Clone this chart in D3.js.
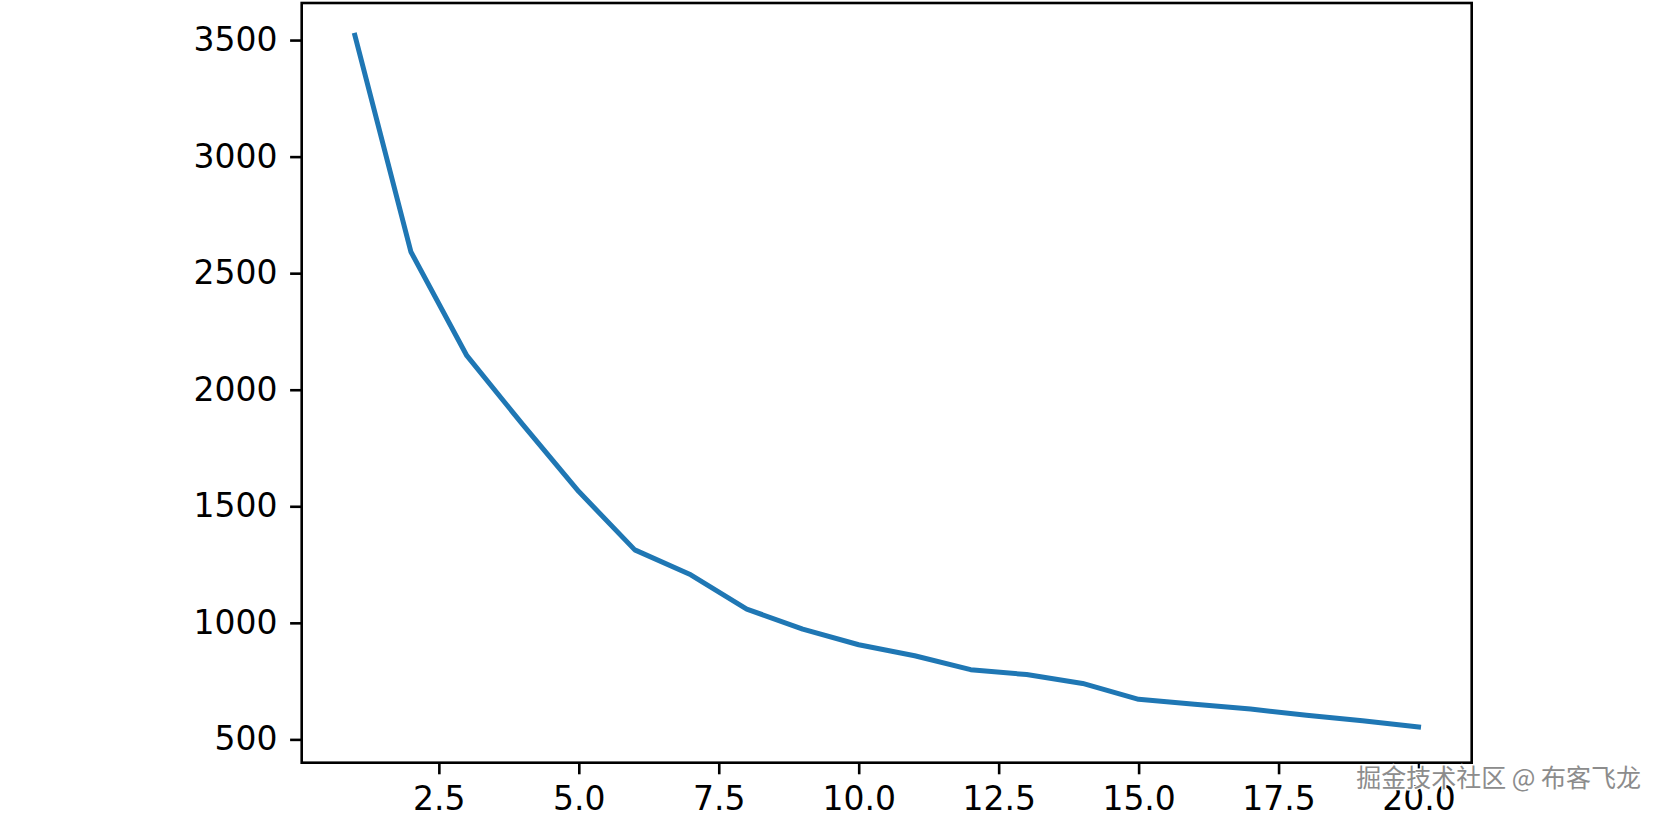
<!DOCTYPE html>
<html>
<head>
<meta charset="utf-8">
<script src="https://cdn.jsdelivr.net/npm/d3@7"></script>
<style>
  html, body { margin: 0; padding: 0; background: #fff; }
  svg { display: block; }
</style>
</head>
<body>
<svg id="chart" width="1665" height="815"></svg>
<script>
// ---- data ----
const xValues = [1, 2, 3, 4, 5, 6, 7, 8, 9, 10, 11, 12, 13, 14, 15, 16, 17, 18, 19, 20];
const yValues = [3520, 2592, 2146, 1850, 1563, 1313, 1206, 1059, 973, 906, 859, 799, 778, 740, 672, 651, 630, 604, 580, 553];
const xTicks = [2.5, 5.0, 7.5, 10.0, 12.5, 15.0, 17.5, 20.0];
const yTicks = [500, 1000, 1500, 2000, 2500, 3000, 3500];
const watermark = "掘金技术社区 @ 布客飞龙";

// ---- layout ----
const W = 1665, H = 815;
const plotLeft = 301.7, plotRight = 1471.7, plotTop = 3, plotBottom = 762.7;
const fontSize = 33;
const tickLen = 11.6, tickPad = 12.5;

const svg = d3.select("#chart");
svg.append("rect").attr("width", W).attr("height", H).attr("fill", "#fff");

const x = d3.scaleLinear().domain([0.05, 20.95]).range([plotLeft, plotRight]);
const y = d3.scaleLinear().domain([400, 3659]).range([plotBottom, plotTop]);

// line
const line = d3.line().x((d, i) => x(xValues[i])).y(d => y(d));
svg.append("path")
  .datum(yValues)
  .attr("d", line)
  .attr("fill", "none")
  .attr("stroke", "#1f77b4")
  .attr("stroke-width", 5)
  .attr("stroke-linejoin", "round")
  .attr("stroke-linecap", "square");

// axes
const xAxis = d3.axisBottom(x).tickValues(xTicks).tickFormat(d => d.toFixed(1))
  .tickSizeInner(tickLen).tickSizeOuter(0).tickPadding(tickPad);
const yAxis = d3.axisLeft(y).tickValues(yTicks).tickFormat(d => String(d))
  .tickSizeInner(tickLen).tickSizeOuter(0).tickPadding(tickPad);

const gx = svg.append("g").attr("transform", `translate(0,${plotBottom})`).call(xAxis);
const gy = svg.append("g").attr("transform", `translate(${plotLeft},0)`).call(yAxis);
[gx, gy].forEach(g => {
  g.select(".domain").remove();
  g.selectAll(".tick line").attr("stroke", "#000").attr("stroke-width", 2.6);
  g.selectAll(".tick text")
    .attr("fill", "#000")
    .style("font-family", "'DejaVu Sans', sans-serif")
    .style("font-size", fontSize + "px");
});

// frame
svg.append("rect")
  .attr("x", plotLeft).attr("y", plotTop)
  .attr("width", plotRight - plotLeft).attr("height", plotBottom - plotTop)
  .attr("fill", "none").attr("stroke", "#000").attr("stroke-width", 2.6);

// watermark
svg.append("text")
  .attr("x", 1641).attr("y", 787)
  .attr("text-anchor", "end")
  .style("font-family", "'Noto Sans CJK SC', sans-serif")
  .style("font-size", "25px")
  .attr("fill", "#8c8c8c")
  .attr("stroke", "#fff")
  .attr("stroke-width", 3)
  .attr("paint-order", "stroke")
  .text(watermark);
</script>
</body>
</html>
